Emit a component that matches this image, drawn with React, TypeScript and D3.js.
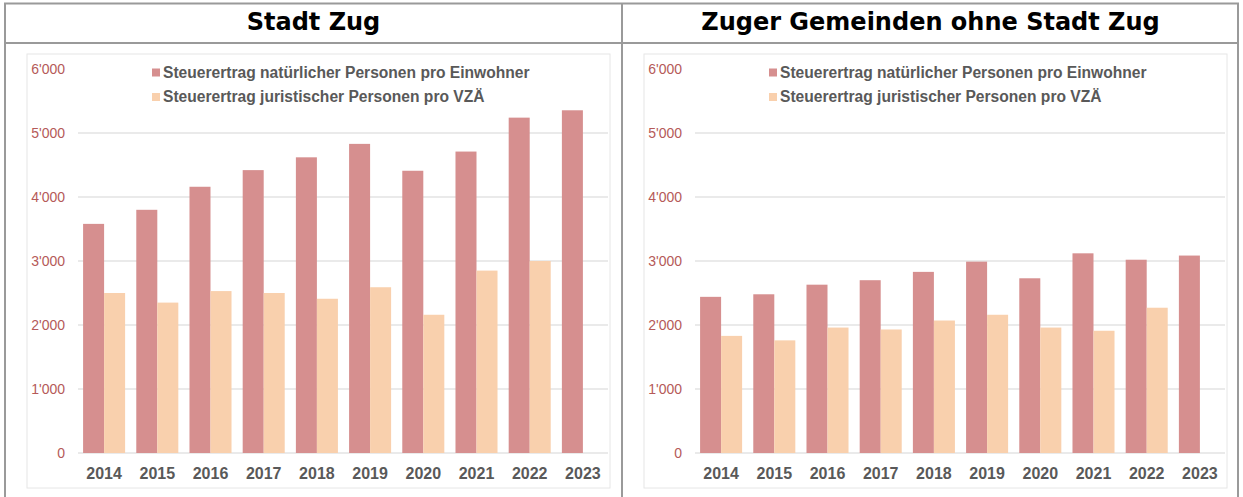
import * as d3 from "d3";
import React from "react";

const years = ["2014", "2015", "2016", "2017", "2018", "2019", "2020", "2021", "2022", "2023"];
const stadtNat = [3580, 3800, 4160, 4420, 4620, 4830, 4410, 4710, 5240, 5355];
const stadtJur = [2500, 2350, 2530, 2500, 2410, 2590, 2160, 2850, 3000, null];
const gemNat = [2440, 2480, 2630, 2700, 2830, 2990, 2730, 3120, 3020, 3085];
const gemJur = [1830, 1760, 1960, 1930, 2070, 2160, 1960, 1910, 2270, null];
const yTicks = [0, 1000, 2000, 3000, 4000, 5000, 6000];
const seriesNames = [
  "Steuerertrag natürlicher Personen pro Einwohner",
  "Steuerertrag juristischer Personen pro VZÄ",
];
const colors = ["#d68f8f", "#f9d0ad"];

const fmt = (v: number) => (v === 0 ? "0" : d3.format(",")(v).replace(",", "'"));

function Panel({ x0, title, nat, jur }: { x0: number; title: string; nat: (number | null)[]; jur: (number | null)[] }) {
  const y = d3.scaleLinear().domain([0, 6000]).range([453, 69]);
  const x = d3.scaleBand().domain(years).range([72.5, 604.5]).paddingInner(0.21).paddingOuter(0.105);
  const sub = d3.scaleBand().domain(["nat", "jur"]).range([0, x.bandwidth()]);
  const series = [
    { key: "nat", values: nat, color: colors[0] },
    { key: "jur", values: jur, color: colors[1] },
  ];
  return (
    <g transform={`translate(${x0},0)`}>
      <text x={308.5} y={30} textAnchor="middle" fontFamily="DejaVu Sans" fontWeight="bold" fontSize={24} fill="#000">
        {title}
      </text>
      <rect x={22} y={54} width={583} height={434} fill="#fff" stroke="#e6e6e6" strokeWidth={1} />
      {yTicks.map((t) => (
        <g key={t}>
          {t < 6000 && <line x1={73} x2={603} y1={y(t)} y2={y(t)} stroke="#e3e3e3" strokeWidth={1.3} />}
          <text x={60} y={y(t)} dy="0.35em" textAnchor="end" fontFamily="Liberation Sans" fontSize={14} fill="#b55a59">
            {fmt(t)}
          </text>
        </g>
      ))}
      {series.map((s) =>
        s.values.map((v, i) =>
          v == null ? null : (
            <rect
              key={s.key + i}
              x={(x(years[i]) as number) + (sub(s.key) as number)}
              y={y(v)}
              width={sub.bandwidth()}
              height={y(0) - y(v)}
              fill={s.color}
            />
          )
        )
      )}
      {years.map((yr) => (
        <text
          key={yr}
          x={(x(yr) as number) + x.bandwidth() / 2}
          y={478.5}
          textAnchor="middle"
          fontFamily="Liberation Sans"
          fontWeight="bold"
          fontSize={16}
          fill="#595959"
        >
          {yr}
        </text>
      ))}
      {seriesNames.map((n, i) => (
        <g key={n} transform={`translate(147,${72.5 + i * 24.5})`}>
          <rect x={0} y={-4} width={8} height={8} fill={colors[i]} />
          <text x={11} y={0} dy="0.35em" fontFamily="Liberation Sans" fontWeight="bold" fontSize={15.6} fill="#595959">
            {n}
          </text>
        </g>
      ))}
    </g>
  );
}

export default function App() {
  return (
    <svg width={1243} height={497} style={{ position: "absolute", left: 0, top: 0, background: "#fff" }}>
      <Panel x0={5} title="Stadt Zug" nat={stadtNat} jur={stadtJur} />
      <Panel x0={622} title="Zuger Gemeinden ohne Stadt Zug" nat={gemNat} jur={gemJur} />
      <g stroke="#9a9a9a" strokeWidth={2} fill="none">
        <line x1={4} x2={1239} y1={3.5} y2={3.5} />
        <line x1={4} x2={1239} y1={43} y2={43} />
        <line x1={5} x2={5} y1={3} y2={497} />
        <line x1={622} x2={622} y1={3} y2={497} />
        <line x1={1238} x2={1238} y1={3} y2={497} />
      </g>
    </svg>
  );
}
